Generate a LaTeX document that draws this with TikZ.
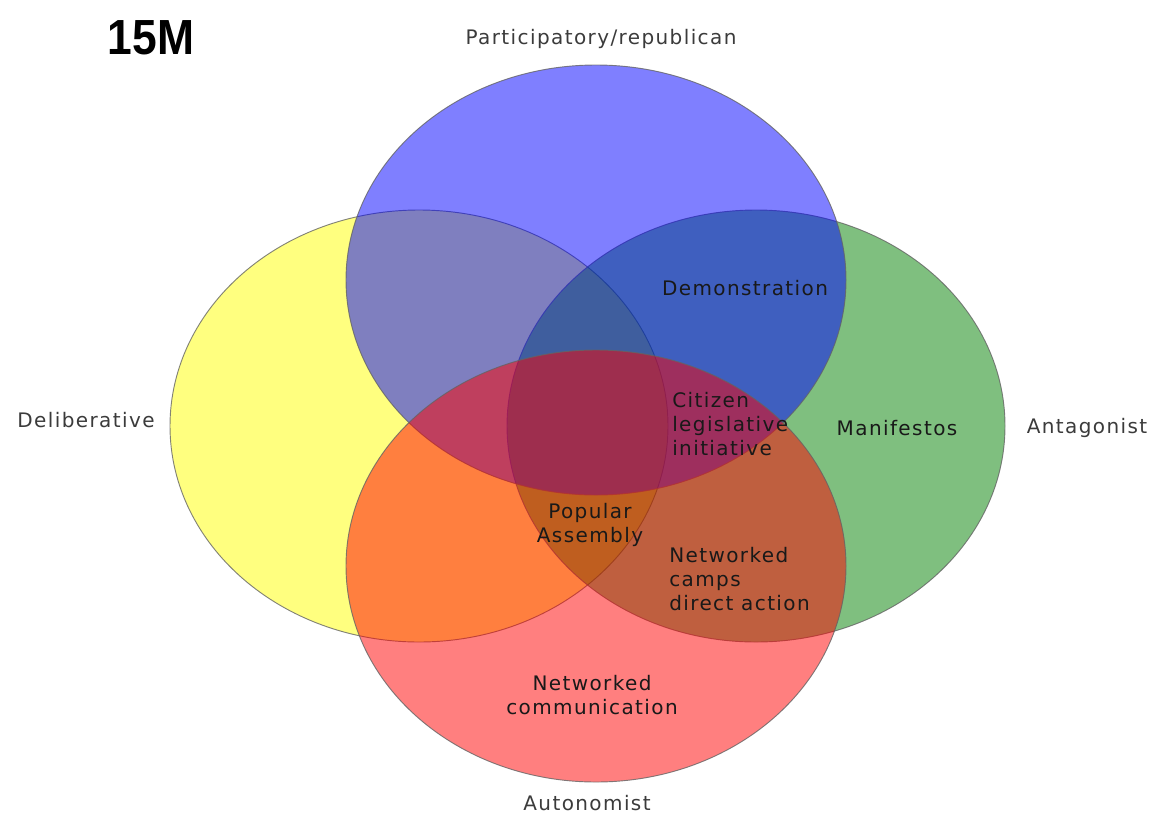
\documentclass[tikz,border=0pt]{standalone}
\usepackage{fontspec}
\setmainfont{DejaVu Sans}[LetterSpace=7]
\newfontfamily\titlefont{Liberation Sans}
\usepackage{xcolor}
\usepackage{tikz}
\usetikzlibrary{positioning}
\definecolor{vnDelib}{RGB}{255,255,0}
\definecolor{vnPartic}{RGB}{0,0,255}
\definecolor{vnAntag}{RGB}{0,128,0}
\definecolor{vnAuton}{RGB}{255,0,0}
\definecolor{vnEdge}{RGB}{100,100,100}
\definecolor{vnText}{RGB}{25,25,25}
\tikzset{
  vnset/.style={draw=vnEdge,line width=0.7pt,fill=#1,fill opacity=0.5,draw opacity=0.8},
  vnlabel/.style={text=vnText,font=\fontsize{15}{18}\selectfont,inner sep=0pt},
}

\begin{document}
\begin{tikzpicture}[x=0.75pt,y=-0.75pt]
\useasboundingbox (0,0) rectangle (1151,814);

% =================================================================
% the four sets
% =================================================================
\path[vnset=vnDelib]  (419,426) ellipse (249 and 216);
\path[vnset=vnAntag]  (756,426) ellipse (249 and 216);
\path[vnset=vnPartic] (596,280) ellipse (250 and 215);
\path[vnset=vnAuton]  (596,566) ellipse (250 and 216);

% =================================================================
% set names and title
% =================================================================
\node[font=\titlefont\bfseries\fontsize{37}{40}\selectfont, xscale=0.9, inner sep=0pt] (title) at (151,38) {15M};
\node[vnlabel, text=vnText!85] (partic) at (601,39)  {Participatory/republican};
\node[vnlabel, text=vnText!85] (delib)  at (86,420)  {Deliberative};
\node[vnlabel, text=vnText!85] (antag)  at (1087,428) {Antagonist};
\node[vnlabel, text=vnText!85] (auton)  at (587,803) {Autonomist};

% =================================================================
% overlaps
% =================================================================
\node[vnlabel] (demo)  at (745,288) {Demonstration};
\node[vnlabel] (manif) at (897,428) {Manifestos};
\node[vnlabel, align=left, anchor=west] (cli) at (672,424)
      {Citizen\\legislative\\initiative};
\node[vnlabel, align=center] (pop) at (590,525) {Popular\\Assembly};
\node[vnlabel, align=left, anchor=west] (camps) at (669,579)
      {Networked\\camps\\direct action};
\node[vnlabel, align=center] (comm) at (592,695) {Networked\\communication};

\end{tikzpicture}
\end{document}
